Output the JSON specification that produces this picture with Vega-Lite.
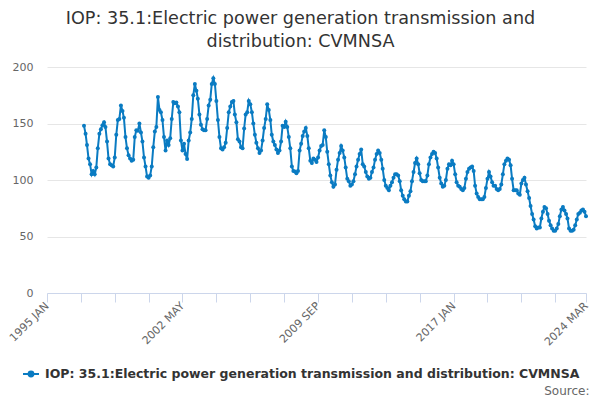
{
  "$schema": "https://vega.github.io/schema/vega-lite/v6.json",
  "width": 539,
  "height": 226,
  "autosize": "none",
  "padding": {"left": 47, "top": 67, "right": 14, "bottom": 107},
  "background": "#ffffff",
  "title": {
    "text": ["IOP: 35.1:Electric power generation transmission and", "distribution: CVMNSA"],
    "font": "DejaVu Sans",
    "fontSize": 17.6,
    "fontWeight": "normal",
    "color": "#333333",
    "anchor": "middle",
    "dx": -16,
    "offset": 10,
    "lineHeight": 23
  },
  "data": {
    "format": {"parse": {"d": "utc:'%Y-%m'"}},
    "values": [
      {"d": "1997-01", "v": 148}, {"d": "1997-02", "v": 141}, {"d": "1997-03", "v": 131}, {"d": "1997-04", "v": 119},
      {"d": "1997-05", "v": 114}, {"d": "1997-06", "v": 105}, {"d": "1997-07", "v": 108}, {"d": "1997-08", "v": 105},
      {"d": "1997-09", "v": 111}, {"d": "1997-10", "v": 128}, {"d": "1997-11", "v": 141}, {"d": "1997-12", "v": 145},
      {"d": "1998-01", "v": 148.5}, {"d": "1998-02", "v": 151}, {"d": "1998-03", "v": 147}, {"d": "1998-04", "v": 134},
      {"d": "1998-05", "v": 119}, {"d": "1998-06", "v": 114}, {"d": "1998-07", "v": 113}, {"d": "1998-08", "v": 112},
      {"d": "1998-09", "v": 120}, {"d": "1998-10", "v": 140}, {"d": "1998-11", "v": 153}, {"d": "1998-12", "v": 154},
      {"d": "1999-01", "v": 166}, {"d": "1999-02", "v": 161}, {"d": "1999-03", "v": 155}, {"d": "1999-04", "v": 138},
      {"d": "1999-05", "v": 128}, {"d": "1999-06", "v": 122}, {"d": "1999-07", "v": 119}, {"d": "1999-08", "v": 117},
      {"d": "1999-09", "v": 118}, {"d": "1999-10", "v": 138}, {"d": "1999-11", "v": 144}, {"d": "1999-12", "v": 143.5},
      {"d": "2000-01", "v": 150}, {"d": "2000-02", "v": 142}, {"d": "2000-03", "v": 134}, {"d": "2000-04", "v": 120},
      {"d": "2000-05", "v": 112}, {"d": "2000-06", "v": 103}, {"d": "2000-07", "v": 102}, {"d": "2000-08", "v": 104},
      {"d": "2000-09", "v": 112}, {"d": "2000-10", "v": 129}, {"d": "2000-11", "v": 143}, {"d": "2000-12", "v": 147},
      {"d": "2001-01", "v": 173.5}, {"d": "2001-02", "v": 162}, {"d": "2001-03", "v": 160}, {"d": "2001-04", "v": 153},
      {"d": "2001-05", "v": 138}, {"d": "2001-06", "v": 126}, {"d": "2001-07", "v": 135}, {"d": "2001-08", "v": 131},
      {"d": "2001-09", "v": 137}, {"d": "2001-10", "v": 154}, {"d": "2001-11", "v": 169}, {"d": "2001-12", "v": 168},
      {"d": "2002-01", "v": 168.5}, {"d": "2002-02", "v": 165}, {"d": "2002-03", "v": 160}, {"d": "2002-04", "v": 135},
      {"d": "2002-05", "v": 126}, {"d": "2002-06", "v": 132}, {"d": "2002-07", "v": 123}, {"d": "2002-08", "v": 118.5},
      {"d": "2002-09", "v": 135}, {"d": "2002-10", "v": 142}, {"d": "2002-11", "v": 154}, {"d": "2002-12", "v": 175},
      {"d": "2003-01", "v": 185}, {"d": "2003-02", "v": 179}, {"d": "2003-03", "v": 172}, {"d": "2003-04", "v": 158},
      {"d": "2003-05", "v": 149}, {"d": "2003-06", "v": 145}, {"d": "2003-07", "v": 144}, {"d": "2003-08", "v": 144},
      {"d": "2003-09", "v": 154}, {"d": "2003-10", "v": 166}, {"d": "2003-11", "v": 171}, {"d": "2003-12", "v": 185},
      {"d": "2004-01", "v": 190}, {"d": "2004-02", "v": 185}, {"d": "2004-03", "v": 170}, {"d": "2004-04", "v": 153},
      {"d": "2004-05", "v": 138}, {"d": "2004-06", "v": 128}, {"d": "2004-07", "v": 127}, {"d": "2004-08", "v": 129},
      {"d": "2004-09", "v": 133}, {"d": "2004-10", "v": 146}, {"d": "2004-11", "v": 160}, {"d": "2004-12", "v": 165},
      {"d": "2005-01", "v": 169}, {"d": "2005-02", "v": 170}, {"d": "2005-03", "v": 158}, {"d": "2005-04", "v": 151},
      {"d": "2005-05", "v": 136}, {"d": "2005-06", "v": 134}, {"d": "2005-07", "v": 129}, {"d": "2005-08", "v": 128},
      {"d": "2005-09", "v": 145.6}, {"d": "2005-10", "v": 158}, {"d": "2005-11", "v": 160}, {"d": "2005-12", "v": 170},
      {"d": "2006-01", "v": 167}, {"d": "2006-02", "v": 160}, {"d": "2006-03", "v": 150}, {"d": "2006-04", "v": 140},
      {"d": "2006-05", "v": 133}, {"d": "2006-06", "v": 128}, {"d": "2006-07", "v": 124}, {"d": "2006-08", "v": 126},
      {"d": "2006-09", "v": 135}, {"d": "2006-10", "v": 146}, {"d": "2006-11", "v": 154}, {"d": "2006-12", "v": 167},
      {"d": "2007-01", "v": 162}, {"d": "2007-02", "v": 153}, {"d": "2007-03", "v": 140}, {"d": "2007-04", "v": 134},
      {"d": "2007-05", "v": 131}, {"d": "2007-06", "v": 127}, {"d": "2007-07", "v": 124}, {"d": "2007-08", "v": 126},
      {"d": "2007-09", "v": 134}, {"d": "2007-10", "v": 148}, {"d": "2007-11", "v": 147}, {"d": "2007-12", "v": 151.5},
      {"d": "2008-01", "v": 147}, {"d": "2008-02", "v": 138}, {"d": "2008-03", "v": 128}, {"d": "2008-04", "v": 112},
      {"d": "2008-05", "v": 108}, {"d": "2008-06", "v": 107.6}, {"d": "2008-07", "v": 106}, {"d": "2008-08", "v": 108},
      {"d": "2008-09", "v": 126}, {"d": "2008-10", "v": 132}, {"d": "2008-11", "v": 139}, {"d": "2008-12", "v": 143},
      {"d": "2009-01", "v": 146}, {"d": "2009-02", "v": 139}, {"d": "2009-03", "v": 128}, {"d": "2009-04", "v": 117},
      {"d": "2009-05", "v": 115}, {"d": "2009-06", "v": 119}, {"d": "2009-07", "v": 118}, {"d": "2009-08", "v": 116},
      {"d": "2009-09", "v": 120}, {"d": "2009-10", "v": 126}, {"d": "2009-11", "v": 130}, {"d": "2009-12", "v": 131},
      {"d": "2010-01", "v": 144}, {"d": "2010-02", "v": 138}, {"d": "2010-03", "v": 125}, {"d": "2010-04", "v": 114},
      {"d": "2010-05", "v": 104}, {"d": "2010-06", "v": 98}, {"d": "2010-07", "v": 94}, {"d": "2010-08", "v": 96},
      {"d": "2010-09", "v": 109}, {"d": "2010-10", "v": 118}, {"d": "2010-11", "v": 124}, {"d": "2010-12", "v": 130},
      {"d": "2011-01", "v": 126}, {"d": "2011-02", "v": 120}, {"d": "2011-03", "v": 111}, {"d": "2011-04", "v": 101},
      {"d": "2011-05", "v": 99}, {"d": "2011-06", "v": 95}, {"d": "2011-07", "v": 96}, {"d": "2011-08", "v": 99},
      {"d": "2011-09", "v": 105}, {"d": "2011-10", "v": 112}, {"d": "2011-11", "v": 118}, {"d": "2011-12", "v": 123},
      {"d": "2012-01", "v": 127}, {"d": "2012-02", "v": 114}, {"d": "2012-03", "v": 112}, {"d": "2012-04", "v": 107},
      {"d": "2012-05", "v": 103}, {"d": "2012-06", "v": 101}, {"d": "2012-07", "v": 102}, {"d": "2012-08", "v": 107},
      {"d": "2012-09", "v": 111}, {"d": "2012-10", "v": 118}, {"d": "2012-11", "v": 123}, {"d": "2012-12", "v": 126},
      {"d": "2013-01", "v": 124}, {"d": "2013-02", "v": 118}, {"d": "2013-03", "v": 110}, {"d": "2013-04", "v": 100},
      {"d": "2013-05", "v": 95}, {"d": "2013-06", "v": 93}, {"d": "2013-07", "v": 91}, {"d": "2013-08", "v": 95},
      {"d": "2013-09", "v": 98}, {"d": "2013-10", "v": 102}, {"d": "2013-11", "v": 105}, {"d": "2013-12", "v": 105},
      {"d": "2014-01", "v": 104}, {"d": "2014-02", "v": 99}, {"d": "2014-03", "v": 91}, {"d": "2014-04", "v": 86},
      {"d": "2014-05", "v": 83}, {"d": "2014-06", "v": 81}, {"d": "2014-07", "v": 81}, {"d": "2014-08", "v": 86},
      {"d": "2014-09", "v": 90}, {"d": "2014-10", "v": 99}, {"d": "2014-11", "v": 107}, {"d": "2014-12", "v": 115},
      {"d": "2015-01", "v": 119}, {"d": "2015-02", "v": 114}, {"d": "2015-03", "v": 106}, {"d": "2015-04", "v": 100},
      {"d": "2015-05", "v": 99}, {"d": "2015-06", "v": 99}, {"d": "2015-07", "v": 99}, {"d": "2015-08", "v": 104},
      {"d": "2015-09", "v": 114}, {"d": "2015-10", "v": 120}, {"d": "2015-11", "v": 123}, {"d": "2015-12", "v": 125},
      {"d": "2016-01", "v": 124}, {"d": "2016-02", "v": 119}, {"d": "2016-03", "v": 111}, {"d": "2016-04", "v": 102},
      {"d": "2016-05", "v": 97}, {"d": "2016-06", "v": 94}, {"d": "2016-07", "v": 95}, {"d": "2016-08", "v": 100},
      {"d": "2016-09", "v": 110}, {"d": "2016-10", "v": 114}, {"d": "2016-11", "v": 113}, {"d": "2016-12", "v": 117},
      {"d": "2017-01", "v": 114}, {"d": "2017-02", "v": 105}, {"d": "2017-03", "v": 98}, {"d": "2017-04", "v": 95},
      {"d": "2017-05", "v": 94}, {"d": "2017-06", "v": 92}, {"d": "2017-07", "v": 91}, {"d": "2017-08", "v": 93},
      {"d": "2017-09", "v": 101}, {"d": "2017-10", "v": 107}, {"d": "2017-11", "v": 110}, {"d": "2017-12", "v": 111},
      {"d": "2018-01", "v": 112}, {"d": "2018-02", "v": 108}, {"d": "2018-03", "v": 95}, {"d": "2018-04", "v": 88},
      {"d": "2018-05", "v": 85}, {"d": "2018-06", "v": 83}, {"d": "2018-07", "v": 83}, {"d": "2018-08", "v": 83},
      {"d": "2018-09", "v": 85}, {"d": "2018-10", "v": 93}, {"d": "2018-11", "v": 101}, {"d": "2018-12", "v": 107},
      {"d": "2019-01", "v": 103}, {"d": "2019-02", "v": 98}, {"d": "2019-03", "v": 95}, {"d": "2019-04", "v": 95},
      {"d": "2019-05", "v": 92}, {"d": "2019-06", "v": 91}, {"d": "2019-07", "v": 92}, {"d": "2019-08", "v": 96},
      {"d": "2019-09", "v": 105}, {"d": "2019-10", "v": 114}, {"d": "2019-11", "v": 117}, {"d": "2019-12", "v": 119},
      {"d": "2020-01", "v": 118}, {"d": "2020-02", "v": 113}, {"d": "2020-03", "v": 101}, {"d": "2020-04", "v": 91},
      {"d": "2020-05", "v": 91}, {"d": "2020-06", "v": 91}, {"d": "2020-07", "v": 88}, {"d": "2020-08", "v": 87},
      {"d": "2020-09", "v": 97}, {"d": "2020-10", "v": 100}, {"d": "2020-11", "v": 102}, {"d": "2020-12", "v": 96},
      {"d": "2021-01", "v": 90}, {"d": "2021-02", "v": 84}, {"d": "2021-03", "v": 77}, {"d": "2021-04", "v": 70},
      {"d": "2021-05", "v": 65}, {"d": "2021-06", "v": 59}, {"d": "2021-07", "v": 57}, {"d": "2021-08", "v": 58},
      {"d": "2021-09", "v": 58}, {"d": "2021-10", "v": 66}, {"d": "2021-11", "v": 72}, {"d": "2021-12", "v": 76},
      {"d": "2022-01", "v": 75}, {"d": "2022-02", "v": 70}, {"d": "2022-03", "v": 64}, {"d": "2022-04", "v": 60},
      {"d": "2022-05", "v": 57}, {"d": "2022-06", "v": 55}, {"d": "2022-07", "v": 55}, {"d": "2022-08", "v": 57},
      {"d": "2022-09", "v": 61}, {"d": "2022-10", "v": 68}, {"d": "2022-11", "v": 74}, {"d": "2022-12", "v": 76},
      {"d": "2023-01", "v": 73}, {"d": "2023-02", "v": 70}, {"d": "2023-03", "v": 66}, {"d": "2023-04", "v": 57},
      {"d": "2023-05", "v": 55}, {"d": "2023-06", "v": 55}, {"d": "2023-07", "v": 56}, {"d": "2023-08", "v": 60},
      {"d": "2023-09", "v": 65}, {"d": "2023-10", "v": 70}, {"d": "2023-11", "v": 71}, {"d": "2023-12", "v": 73},
      {"d": "2024-01", "v": 74}, {"d": "2024-02", "v": 72}, {"d": "2024-03", "v": 68}
    ]
  },
  "mark": {
    "type": "line",
    "strokeWidth": 2,
    "point": {"filled": true, "size": 16}
  },
  "encoding": {
    "x": {
      "field": "d",
      "type": "temporal",
      "scale": {
        "type": "utc",
        "domain": [
          {"year": 1995, "month": 1, "date": 1, "utc": true},
          {"year": 2024, "month": 3, "date": 1, "utc": true}
        ]
      },
      "axis": {
        "values": [
          {"year": 1995, "month": 1, "date": 1, "utc": true},
          {"year": 1996, "month": 11, "date": 1, "utc": true},
          {"year": 1998, "month": 9, "date": 1, "utc": true},
          {"year": 2000, "month": 7, "date": 1, "utc": true},
          {"year": 2002, "month": 5, "date": 1, "utc": true},
          {"year": 2004, "month": 3, "date": 1, "utc": true},
          {"year": 2006, "month": 1, "date": 1, "utc": true},
          {"year": 2007, "month": 11, "date": 1, "utc": true},
          {"year": 2009, "month": 9, "date": 1, "utc": true},
          {"year": 2011, "month": 7, "date": 1, "utc": true},
          {"year": 2013, "month": 5, "date": 1, "utc": true},
          {"year": 2015, "month": 3, "date": 1, "utc": true},
          {"year": 2017, "month": 1, "date": 1, "utc": true},
          {"year": 2018, "month": 11, "date": 1, "utc": true},
          {"year": 2020, "month": 9, "date": 1, "utc": true},
          {"year": 2022, "month": 7, "date": 1, "utc": true},
          {"year": 2024, "month": 3, "date": 1, "utc": true}
        ],
        "labelExpr": "indexof(['1995-01','2002-05','2009-09','2017-01','2024-03'], utcFormat(datum.value, '%Y-%m')) >= 0 ? upper(utcFormat(datum.value, '%Y %b')) : ''",
        "labelAngle": -45,
        "labelAlign": "right",
        "labelBaseline": "middle",
        "labelFont": "DejaVu Sans",
        "labelFontSize": 11,
        "labelColor": "#666666",
        "labelPadding": 2,
        "labelOverlap": false,
        "labelFlush": false,
        "labelBound": false,
        "grid": false,
        "domainColor": "#ccd6eb",
        "tickColor": "#ccd6eb",
        "tickSize": 9,
        "title": "Source:",
        "titleFont": "DejaVu Sans",
        "titleFontSize": 12,
        "titleFontWeight": "normal",
        "titleColor": "#666666",
        "titleAlign": "right",
        "titleBaseline": "alphabetic",
        "titleX": 542,
        "titleY": 101
      }
    },
    "y": {
      "field": "v",
      "type": "quantitative",
      "scale": {"domain": [0, 200], "nice": false, "zero": true},
      "axis": {
        "values": [0, 50, 100, 150, 200],
        "title": null,
        "domain": false,
        "ticks": false,
        "labelFont": "DejaVu Sans",
        "labelFontSize": 11,
        "labelColor": "#666666",
        "labelPadding": 14,
        "gridColor": "#e6e6e6",
        "gridWidth": 1
      }
    },
    "color": {
      "datum": "IOP: 35.1:Electric power generation transmission and distribution: CVMNSA",
      "type": "nominal",
      "scale": {"range": ["#0a7bc2"]},
      "legend": {
        "title": null,
        "orient": "none",
        "legendX": -25,
        "legendY": 298,
        "symbolType": "M-1,0L1,0M-0.3,0A0.3,0.3,0,1,0,0.3,0A0.3,0.3,0,1,0,-0.3,0",
        "symbolSize": 256,
        "symbolStrokeWidth": 2,
        "symbolFillColor": "#0a7bc2",
        "symbolStrokeColor": "#0a7bc2",
        "symbolOpacity": 1,
        "labelFont": "DejaVu Sans",
        "labelFontSize": 12.5,
        "labelFontWeight": "bold",
        "labelColor": "#333333",
        "labelLimit": 600,
        "labelOffset": 5
      }
    }
  },
  "config": {
    "view": {"stroke": null}
  }
}
